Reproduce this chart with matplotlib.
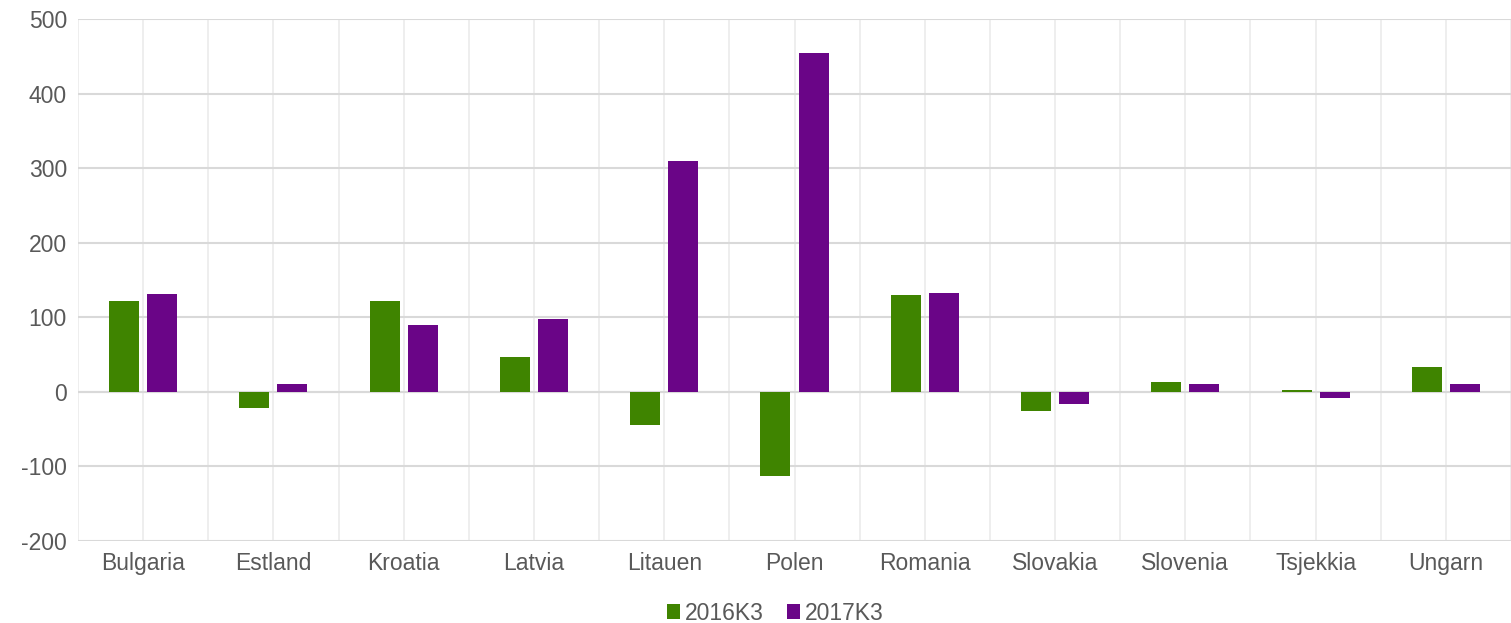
import matplotlib.pyplot as plt
import numpy as np

countries = ["Bulgaria", "Estland", "Kroatia", "Latvia", "Litauen", "Polen",
             "Romania", "Slovakia", "Slovenia", "Tsjekkia", "Ungarn"]
series_2016 = [122, -21, 122, 47, -44, -113, 130, -25, 13, 3, 34]
series_2017 = [131, 11, 90, 98, 310, 454, 133, -16, 10, -8, 10]

GREEN = "#3F8400"
PURPLE = "#6A0587"
TEXT = "#595959"
GRID = "#D9D9D9"

plt.rcParams["font.family"] = ["Liberation Sans", "DejaVu Sans"]
plt.rcParams["axes.unicode_minus"] = False

fig = plt.figure(figsize=(15.11, 6.23), dpi=100)
ax = fig.add_axes([78 / 1511, 1 - 541 / 623, (1511 - 78) / 1511, (541 - 19) / 623])

x = np.arange(len(countries))
w = 0.23
off = 0.146
ax.bar(x - off, series_2016, w, color=GREEN, label="2016K3", zorder=3)
ax.bar(x + off, series_2017, w, color=PURPLE, label="2017K3", zorder=3)

ax.set_xlim(-0.5, len(countries) - 0.5)
ax.set_ylim(-200, 500)
ax.set_yticks(range(-200, 501, 100))
ax.set_xticks(x)
ax.set_xticklabels(countries)
ax.set_xticks(np.arange(-0.5, len(countries), 1.0), minor=True)

ax.grid(axis="y", color=GRID, linewidth=1.5, zorder=0)
ax.grid(axis="x", which="both", color="#EBEBEB", linewidth=1.2, zorder=0)
ax.axhline(0, color=GRID, linewidth=1.5, zorder=2)

for s in ax.spines.values():
    s.set_visible(False)
ax.tick_params(axis="both", which="both", length=0, colors=TEXT, labelsize=16.5)
ax.tick_params(axis="x", pad=8)
ax.tick_params(axis="y", pad=8)

leg = fig.legend(loc="lower center", bbox_to_anchor=(0.513, -0.036), ncol=2, frameon=False,
                 fontsize=16.5, handlelength=0.6, handleheight=0.6, handletextpad=0.2,
                 columnspacing=1.0)
for t in leg.get_texts():
    t.set_color(TEXT)

fig.savefig("out.png", dpi=100)
